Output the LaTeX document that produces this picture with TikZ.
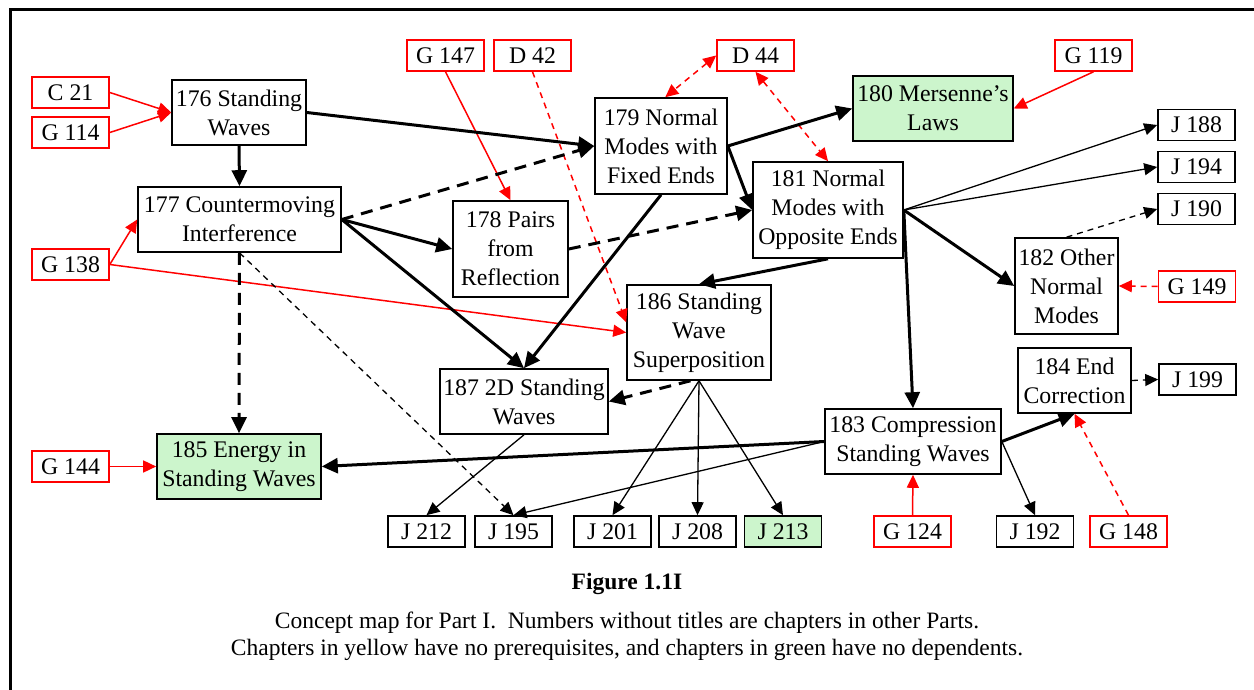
\documentclass[tikz,border=0pt]{standalone}
\usepackage{fontspec}
\setmainfont{Liberation Serif}
\usetikzlibrary{arrows.meta}
\definecolor{leaf}{RGB}{204,245,204}

\begin{document}
\begin{tikzpicture}[x=0.5pt,y=-0.5pt,
  box/.style={draw=black,line width=0.8pt,fill=white,inner sep=0pt,align=center,
    font=\fontsize{11.9}{14.5}\selectfont},
  sz/.style 2 args={minimum width={#1*0.5pt},minimum height={#2*0.5pt}},
  chap/.style={box,sz={77}{31}},
  ref/.style={box,draw=red,sz={77}{31}},
  leafbox/.style={fill=leaf},
  heavy/.style={line width=1.5pt,-{Triangle[length=8pt,width=7.5pt]}},
  light/.style={line width=0.65pt,-{Triangle[length=6.5pt,width=6pt]}},
  redln/.style={draw=red,line width=0.75pt,-{Triangle[length=6.5pt,width=6pt]}},
  heavydash/.style={heavy,dash pattern=on 6pt off 4pt},
  lightdash/.style={light,dash pattern=on 3pt off 2.5pt},
  reddash/.style={redln,dash pattern=on 3pt off 2.5pt},
  redboth/.style={reddash,{Triangle[length=6.5pt,width=6pt]}-{Triangle[length=6.5pt,width=6pt]}},
  captext/.style={inner sep=0pt,font=\fontsize{11.75}{14}\selectfont}
]
\useasboundingbox (0,0) rectangle (1254,690);

% page frame
\draw[line width=1.5pt] (10,690) -- (10,10) -- (1254,10);

% concept nodes of Part I
\node[box,sz={134}{65}] (n176) at (239,112.5) {176 Standing\\Waves};
\node[box,sz={203}{65}] (n177) at (239.5,219.5) {177 Countermoving\\Interference};
\node[box,sz={115}{96}] (n178) at (510.5,249) {178 Pairs\\from\\Reflection};
\node[box,sz={132}{96}] (n179) at (661,146) {179 Normal\\Modes with\\Fixed Ends};
\node[box,leafbox,sz={160}{65}] (n180) at (933,108.5) {180 Mersenne’s\\Laws};
\node[box,sz={150}{96}] (n181) at (828,210) {181 Normal\\Modes with\\Opposite Ends};
\node[box,sz={103}{96}] (n182) at (1066.5,286) {182 Other\\Normal\\Modes};
\node[box,sz={176}{65}] (n183) at (913,441.5) {183 Compression\\Standing Waves};
\node[box,sz={113}{65}] (n184) at (1074.5,380.5) {184 End\\Correction};
\node[box,leafbox,sz={164}{65}] (n185) at (239,466.5) {185 Energy in\\Standing Waves};
\node[box,sz={144}{95}] (n186) at (699,332.5) {186 Standing\\Wave\\Superposition};
\node[box,sz={168}{65}] (n187) at (524,401.5) {187 2D Standing\\Waves};

% chapters of other Parts
\node[ref] (c21) at (70.5,92.5) {C 21};
\node[ref] (g114) at (70.5,132.5) {G 114};
\node[ref] (g138) at (70.5,264.5) {G 138};
\node[ref] (g144) at (70.5,466.5) {G 144};
\node[ref] (g147) at (445.5,55.5) {G 147};
\node[ref] (d42) at (532.5,55.5) {D 42};
\node[ref] (d44) at (755.5,55.5) {D 44};
\node[ref] (g119) at (1093.5,55.5) {G 119};
\node[ref] (g149) at (1197,286.5) {G 149};
\node[ref] (g124) at (912.5,531.5) {G 124};
\node[ref] (g148) at (1128.5,531.5) {G 148};

\node[chap] (j188) at (1196.5,125) {J 188};
\node[chap] (j194) at (1196.5,167) {J 194};
\node[chap] (j190) at (1196.5,209) {J 190};
\node[chap] (j199) at (1197.5,379.5) {J 199};
\node[chap] (j212) at (426.5,531.5) {J 212};
\node[chap] (j195) at (513.5,531.5) {J 195};
\node[chap] (j201) at (612.5,531.5) {J 201};
\node[chap] (j208) at (697.5,531.5) {J 208};
\node[chap,leafbox] (j213) at (783,531.5) {J 213};
\node[chap] (j192) at (1035,531.5) {J 192};

% prerequisites from other Parts
\draw[redln] (c21.east) -- (n176.west);
\draw[redln] (g114.east) -- (n176.west);
\draw[redln] (g138.east) -- (n177.west);
\draw[redln] (g138.east) -- (n186.west);
\draw[redln] (g147.south) -- (n178.north);
\draw[reddash] (d42.south) -- (n186.172);
\draw[redboth] (d44.west) -- (n179.85);
\draw[redboth] (d44.south) -- (n181.north);
\draw[redln] (g119.south) -- (n180.east);
\draw[reddash] (g149.west) -- (n182.east);
\draw[redln] (g144.east) -- (n185.west);
\draw[redln] (g124.north) -- (n183.south);
\draw[reddash] (g148.north) -- (n184.south);

% strong dependencies
\draw[heavy] (n176.south) -- (n177.north);
\draw[heavy] (n176.east) -- (n179.west);
\draw[heavy] (n177.east) -- (n178.west);
\draw[heavy] (n177.east) -- (n187.north);
\draw[heavy] (n179.south) -- (n187.north);
\draw[heavy] (n179.east) -- (n180.west);
\draw[heavy] (n179.east) -- (n181.west);
\draw[heavy] (n181.south) -- (n186.north);
\draw[heavy] (n181.east) -- (n182.west);
\draw[heavy] (n181.east) -- (n183.north);
\draw[heavy] (n183.west) -- (n185.east);
\draw[heavy] (n183.east) -- (n184.south);

% weaker dependencies
\draw[heavydash] (n177.east) -- (n179.west);
\draw[heavydash] (n178.east) -- (n181.west);
\draw[heavydash] (n177.south) -- (n185.north);
\draw[heavydash] (n186.-100) -- (n187.east);

% links to chapters in other Parts
\draw[light] (n181.east) -- (j188.west);
\draw[light] (n181.east) -- (j194.west);
\draw[lightdash] (n182.north) -- (j190.west);
\draw[lightdash] (n184.east) -- (j199.west);
\draw[lightdash] (n177.south) -- (j195.north);
\draw[light] (n183.west) -- (j195.north);
\draw[light] (n187.south) -- (j212.north);
\draw[light] (n186.south) -- (j201.north);
\draw[light] (n186.south) -- (j208.north);
\draw[light] (n186.south) -- (j213.north);
\draw[light] (n183.east) -- (j192.north);

% caption
\node[captext,font=\fontsize{11.75}{14}\selectfont\bfseries] (fig) at (627,584) {Figure 1.1I};
\node[captext] (cap1) at (627,623) {Concept map for Part I.\ \ Numbers without titles are chapters in other Parts.};
\node[captext] (cap2) at (627,650) {Chapters in yellow have no prerequisites, and chapters in green have no dependents.};
\end{tikzpicture}
\end{document}
